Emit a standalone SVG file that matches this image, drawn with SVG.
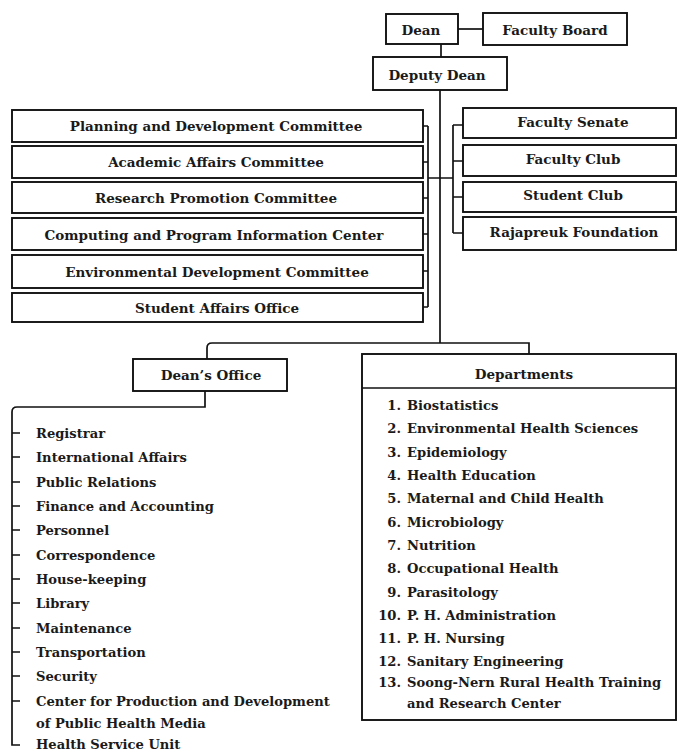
<svg xmlns="http://www.w3.org/2000/svg" width="679" height="755" viewBox="0 0 679 755">
<style>
.b{fill:#fff;stroke:#111;stroke-width:1.9}
.c{fill:none;stroke:#111;stroke-width:1.7}
text{font-family:"DejaVu Serif","Liberation Serif",serif;font-size:13.5px;font-weight:bold;fill:#1a1a1a}
.l text{font-size:13.1px}
.m{text-anchor:middle}
.e{text-anchor:end}
</style>
<rect width="679" height="755" fill="#fff"/>
<g id="connectors">
<path class="c" d="M458 29H483"/>
<path class="c" d="M441 44V57"/>
<path class="c" d="M440 90V343"/>
<path class="c" d="M423 126H428M423 162H428M423 198H428M423 234H428M423 271H428M423 307H428M428 126V307M428 178H440"/>
<path class="c" d="M440 178H453M453 125V233M453 125H463M453 161H463M453 197H463M453 233H463"/>
<path class="c" d="M207 359V348Q207 343 212 343H529V354"/>
<path class="c" d="M205 391V407H17Q12 407 12 412V745H20"/>
<path class="c" d="M12 433H20M12 457H20M12 482H20M12 506H20M12 530H20M12 555H20M12 579H20M12 603H20M12 628H20M12 652H20M12 676H20M12 701H20"/>
</g>
<g id="dean"><rect class="b" x="386" y="14" width="72" height="30"/><text class="m" x="421" y="35">Dean</text></g>
<g id="faculty-board"><rect class="b" x="483" y="13" width="144" height="32"/><text class="m" x="555" y="35">Faculty Board</text></g>
<g id="deputy-dean"><rect class="b" x="373" y="57" width="134" height="33"/><text class="m" x="437" y="80">Deputy Dean</text></g>
<g id="planning"><rect class="b" x="12" y="110" width="411" height="32"/><text class="m" x="216" y="131">Planning and Development Committee</text></g>
<g id="academic"><rect class="b" x="12" y="146" width="411" height="32"/><text class="m" x="216" y="167">Academic Affairs Committee</text></g>
<g id="research"><rect class="b" x="12" y="182" width="411" height="31"/><text class="m" x="216" y="203">Research Promotion Committee</text></g>
<g id="computing"><rect class="b" x="12" y="218" width="411" height="32"/><text class="m" x="214" y="240">Computing and Program Information Center</text></g>
<g id="environmental"><rect class="b" x="12" y="255" width="411" height="33"/><text class="m" x="217" y="277">Environmental Development Committee</text></g>
<g id="student-affairs"><rect class="b" x="12" y="293" width="411" height="29"/><text class="m" x="217" y="313">Student Affairs Office</text></g>
<g id="faculty-senate"><rect class="b" x="463" y="108" width="213" height="30"/><text class="m" x="573" y="127">Faculty Senate</text></g>
<g id="faculty-club"><rect class="b" x="463" y="145" width="213" height="31"/><text class="m" x="573" y="164">Faculty Club</text></g>
<g id="student-club"><rect class="b" x="463" y="182" width="213" height="30"/><text class="m" x="573" y="200">Student Club</text></g>
<g id="rajapreuk"><rect class="b" x="463" y="217" width="213" height="33"/><text class="m" x="574" y="237">Rajapreuk Foundation</text></g>
<g id="deans-office"><rect class="b" x="133" y="359" width="154" height="32"/><text class="m" x="211" y="380">Dean’s Office</text></g>
<g id="deans-office-units" class="l">
<text x="36" y="438">Registrar</text>
<text x="36" y="462">International Affairs</text>
<text x="36" y="487">Public Relations</text>
<text x="36" y="511">Finance and Accounting</text>
<text x="36" y="535">Personnel</text>
<text x="36" y="560">Correspondence</text>
<text x="36" y="584">House-keeping</text>
<text x="36" y="608">Library</text>
<text x="36" y="633">Maintenance</text>
<text x="36" y="657">Transportation</text>
<text x="36" y="681">Security</text>
<text x="36" y="706">Center for Production and Development</text>
<text x="36" y="728">of Public Health Media</text>
<text x="36" y="749">Health Service Unit</text>
</g>
<g id="departments" class="l">
<rect class="b" x="362" y="354" width="314" height="366"/>
<path class="c" d="M362 388H676"/>
<text class="m" x="524" y="379" style="font-size:13.5px">Departments</text>
<text class="e" x="401" y="410">1.</text><text x="407" y="410">Biostatistics</text>
<text class="e" x="401" y="433">2.</text><text x="407" y="433">Environmental Health Sciences</text>
<text class="e" x="401" y="457">3.</text><text x="407" y="457">Epidemiology</text>
<text class="e" x="401" y="480">4.</text><text x="407" y="480">Health Education</text>
<text class="e" x="401" y="503">5.</text><text x="407" y="503">Maternal and Child Health</text>
<text class="e" x="401" y="527">6.</text><text x="407" y="527">Microbiology</text>
<text class="e" x="401" y="550">7.</text><text x="407" y="550">Nutrition</text>
<text class="e" x="401" y="573">8.</text><text x="407" y="573">Occupational Health</text>
<text class="e" x="401" y="597">9.</text><text x="407" y="597">Parasitology</text>
<text class="e" x="401" y="620">10.</text><text x="407" y="620">P. H. Administration</text>
<text class="e" x="401" y="643">11.</text><text x="407" y="643">P. H. Nursing</text>
<text class="e" x="401" y="666">12.</text><text x="407" y="666">Sanitary Engineering</text>
<text class="e" x="401" y="687">13.</text><text x="407" y="687">Soong-Nern Rural Health Training</text>
<text x="407" y="708">and Research Center</text>
</g>
</svg>
